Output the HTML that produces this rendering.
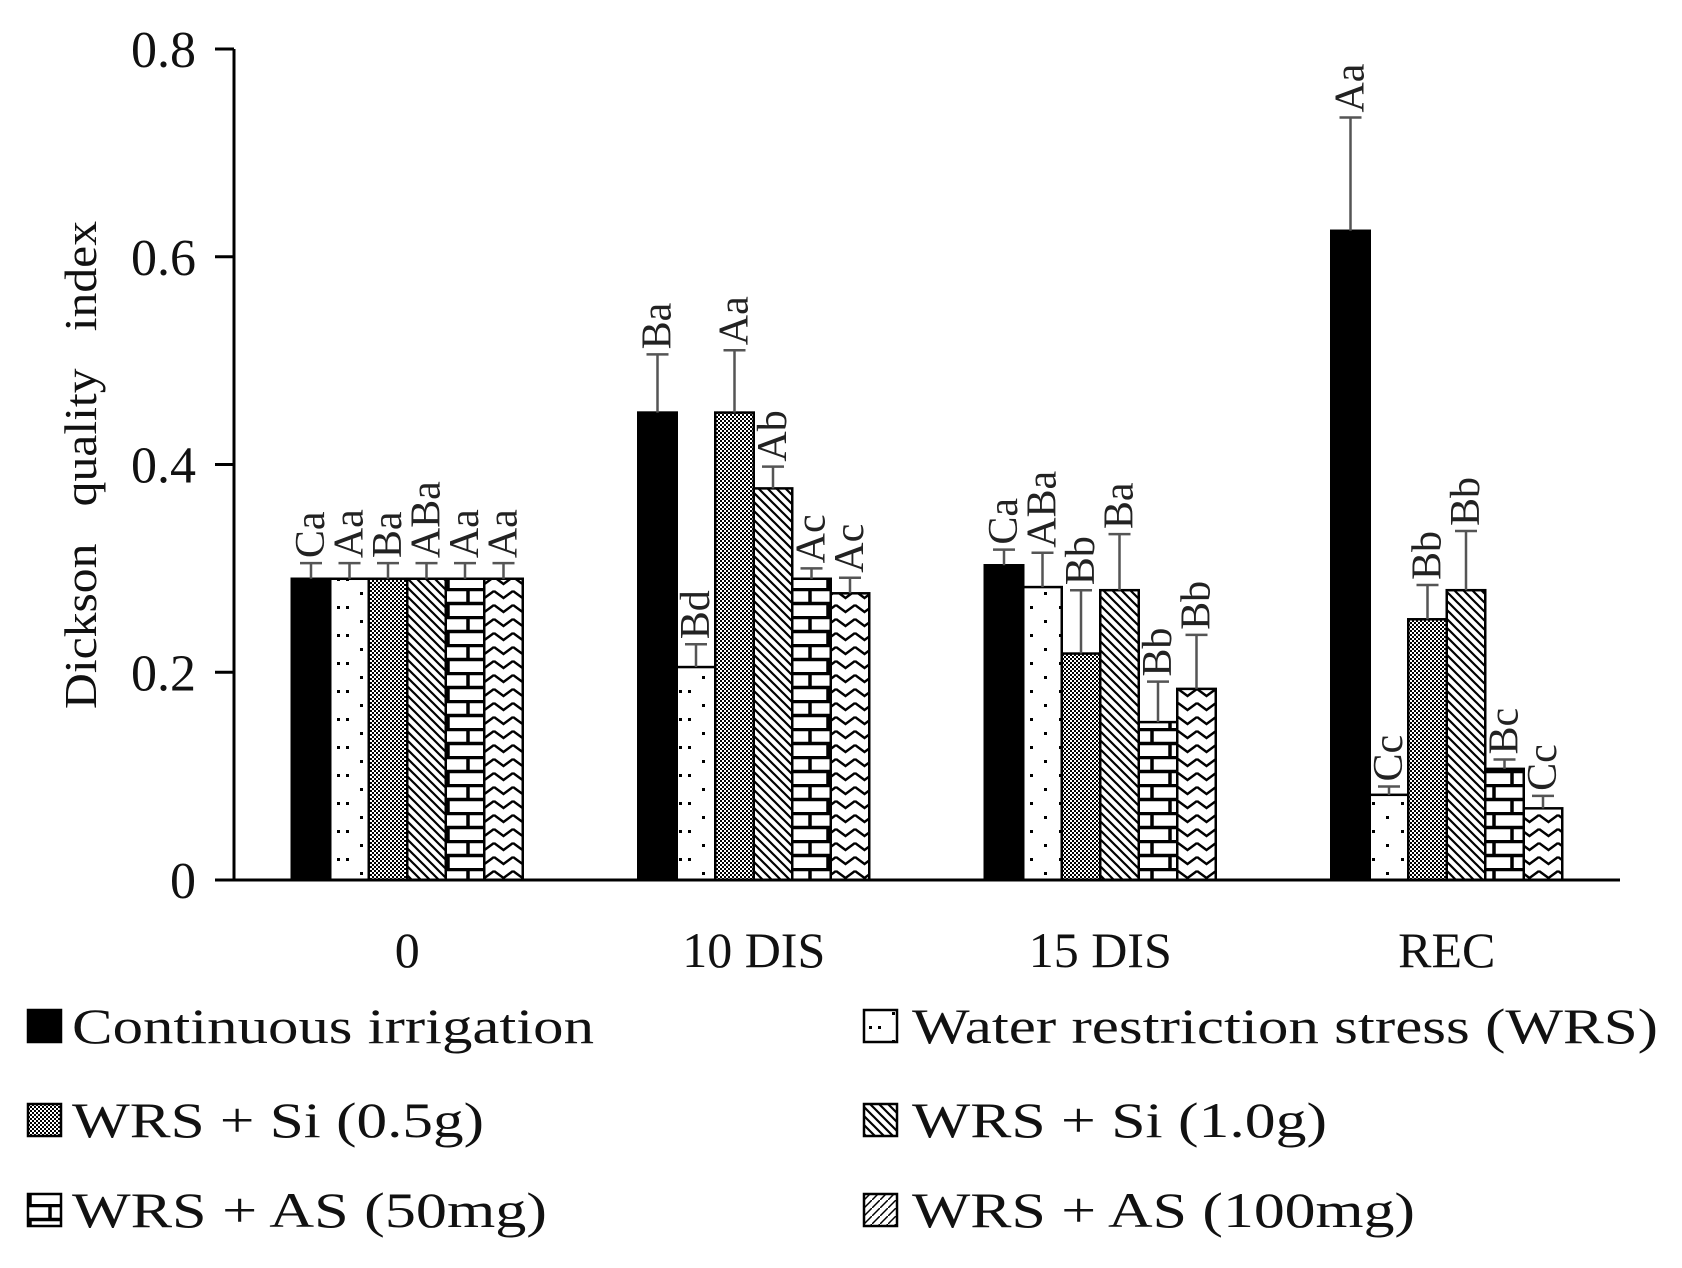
<!DOCTYPE html>
<html><head><meta charset="utf-8"><style>
html,body{margin:0;padding:0;background:#fff;}
svg{display:block;font-family:"Liberation Serif",serif;}
text{white-space:pre;}
</style></head><body>
<svg id="chart" width="1682" height="1268" viewBox="0 0 1682 1268">
<defs>
<pattern id="p-dots" width="38" height="28" patternUnits="userSpaceOnUse">
<rect width="38" height="28" fill="#fff"/>
<rect x="18" y="4" width="3" height="3" fill="#000"/><rect x="4" y="18" width="3" height="3" fill="#000"/><rect x="33" y="18" width="3" height="3" fill="#000"/>
</pattern>
<pattern id="p-check" width="4" height="4" patternUnits="userSpaceOnUse">
<rect width="4" height="4" fill="#fff"/><rect width="2" height="2" fill="#000"/><rect x="2" y="2" width="2" height="2" fill="#000"/>
</pattern>
<pattern id="p-diag" width="9" height="9" patternUnits="userSpaceOnUse">
<rect width="9" height="9" fill="#fff"/>
<path d="M-1,-1 L10,10 M-1,8 L1,10 M8,-1 L10,1" stroke="#000" stroke-width="2.2"/>
</pattern>
<pattern id="p-brick" width="38" height="28" patternUnits="userSpaceOnUse">
<rect width="38" height="28" fill="#fff"/>
<path d="M0,1.5 H38 M0,15.5 H38 M12,0 V14 M30,14 V28" stroke="#000" stroke-width="3.5"/>
</pattern>
<pattern id="p-zig" width="19" height="14" patternUnits="userSpaceOnUse">
<rect width="19" height="14" fill="#fff"/>
<path d="M0,3 L9.5,10 L19,3" stroke="#000" stroke-width="2.5" fill="none"/>
</pattern>
<pattern id="p-legzig" width="8" height="8" patternUnits="userSpaceOnUse">
<rect width="8" height="8" fill="#fff"/><path d="M0,8 L8,0" stroke="#000" stroke-width="1.5"/>
</pattern>
</defs>
<g id="plot"></g>
<g id="legend"></g>
</svg>
<script>
const categories = ["0", "10 DIS", "15 DIS", "REC"];
const seriesNames = ["Continuous irrigation", "Water restriction stress (WRS)", "WRS + Si (0.5g)", "WRS + Si (1.0g)", "WRS + AS (50mg)", "WRS + AS (100mg)"];
const ciValues = [0.29, 0.45, 0.303, 0.625];
const wrsValues = [0.29, 0.205, 0.282, 0.082];
const si05Values = [0.29, 0.45, 0.218, 0.251];
const si10Values = [0.29, 0.377, 0.279, 0.279];
const as50Values = [0.29, 0.29, 0.152, 0.107];
const as100Values = [0.29, 0.276, 0.184, 0.069];
const ciErr = [0.015, 0.056, 0.015, 0.109];
const wrsErr = [0.015, 0.022, 0.033, 0.008];
const si05Err = [0.015, 0.06, 0.061, 0.033];
const si10Err = [0.015, 0.021, 0.054, 0.057];
const as50Err = [0.015, 0.01, 0.039, 0.009];
const as100Err = [0.015, 0.015, 0.052, 0.012];
const ciLabels = ["Ca", "Ba", "Ca", "Aa"];
const wrsLabels = ["Aa", "Bd", "ABa", "Cc"];
const si05Labels = ["Ba", "Aa", "Bb", "Bb"];
const si10Labels = ["ABa", "Ab", "Ba", "Bb"];
const as50Labels = ["Aa", "Ac", "Bb", "Bc"];
const as100Labels = ["Aa", "Ac", "Bb", "Cc"];
const yTicks = [0, 0.2, 0.4, 0.6, 0.8];
const yTickLabels = ["0", "0.2", "0.4", "0.6", "0.8"];

const series = [
 {v: ciValues, e: ciErr, l: ciLabels, fill: "#000", key: "ci"},
 {v: wrsValues, e: wrsErr, l: wrsLabels, fill: "url(#p-dots)", key: "wrs"},
 {v: si05Values, e: si05Err, l: si05Labels, fill: "url(#p-check)", key: "si05"},
 {v: si10Values, e: si10Err, l: si10Labels, fill: "url(#p-diag)", key: "si10"},
 {v: as50Values, e: as50Err, l: as50Labels, fill: "url(#p-brick)", key: "as50"},
 {v: as100Values, e: as100Err, l: as100Labels, fill: "url(#p-zig)", key: "as100"}
];
const legendFills = ["#000", "url(#p-dots)", "url(#p-check)", "url(#p-diag)", "url(#p-brick)", "url(#p-legzig)"];

const NS = "http://www.w3.org/2000/svg";
const X0 = 234, X1 = 1620, Y0 = 880, YTOP = 49, VMAX = 0.8;
const yScale = v => Y0 - (v / VMAX) * (Y0 - YTOP);
const catW = (X1 - X0) / categories.length;
const barW = 38.5;
const xCenter = i => X0 + catW * (i + 0.5);
const xBar = (i, s) => xCenter(i) - barW * series.length / 2 + s * barW;

function mk(tag, attrs, parent) {
  const el = document.createElementNS(NS, tag);
  for (const k in attrs) el.setAttribute(k, attrs[k]);
  parent.appendChild(el);
  return el;
}
const plot = document.getElementById("plot");
const legend = document.getElementById("legend");

series.forEach((s, si) => {
  s.v.forEach((val, ci) => {
    const x = xBar(ci, si), y = yScale(val);
    const r = mk("rect", {x: x, y: y, width: barW, height: Y0 - y, fill: s.fill, stroke: "#000", "stroke-width": 2.5}, plot);
    
    
    const cx = x + barW / 2, yt = yScale(val + s.e[ci]);
    const eb = mk("path", {d: `M${cx},${y} V${yt} M${cx - 11},${yt} H${cx + 11}`, stroke: "#555", "stroke-width": 2.5, fill: "none"}, plot);
    
    
    const t = mk("text", {x: 0, y: 0, transform: `translate(${cx + 13},${yt - 5}) rotate(-90)`, "font-size": 42, fill: "#222"}, plot);
    t.textContent = s.l[ci];
    
    
  });
});

const ax = mk("path", {d: `M${X0},${YTOP} V${Y0} H${X1}`, stroke: "#000", "stroke-width": 3, fill: "none"}, plot);


yTicks.forEach((v, i) => {
  const y = yScale(v);
  const tk = mk("line", {x1: X0 - 19, x2: X0, y1: y, y2: y, stroke: "#000", "stroke-width": 3}, plot);
  
  
  const t = mk("text", {x: 196, y: y + 18, "text-anchor": "end", "font-size": 52, fill: "#111"}, plot);
  t.textContent = yTickLabels[i];
  
  
});
categories.forEach((c, i) => {
  const t = mk("text", {x: xCenter(i), y: 967, "text-anchor": "middle", "font-size": 50, fill: "#111"}, plot);
  t.textContent = c;
  
  
});
const yt = mk("text", {x: 0, y: 0, transform: "translate(96,465) rotate(-90)", "text-anchor": "middle", "font-size": 46, textLength: 488, lengthAdjust: "spacingAndGlyphs", fill: "#111"}, plot);
yt.textContent = "Dickson   quality   index";



const legPos = [[28, 1043, 72, 522], [864, 1043, 912, 746], [28, 1137, 72, 412], [864, 1137, 912, 415], [28, 1227, 72, 475], [864, 1227, 912, 503]];
seriesNames.forEach((n, i) => {
  const p = legPos[i];
  const g = mk("g", {}, legend);
  
  
  const b = mk("rect", {x: p[0], y: p[1] - 33, width: 33, height: 32, fill: legendFills[i], stroke: "#000", "stroke-width": 2.5}, g);
  
  
  const t = mk("text", {x: p[2], y: p[1], "font-size": 50, textLength: p[3], lengthAdjust: "spacingAndGlyphs", fill: "#111"}, g);
  t.textContent = n;
  
  
});
</script>
</body></html>
